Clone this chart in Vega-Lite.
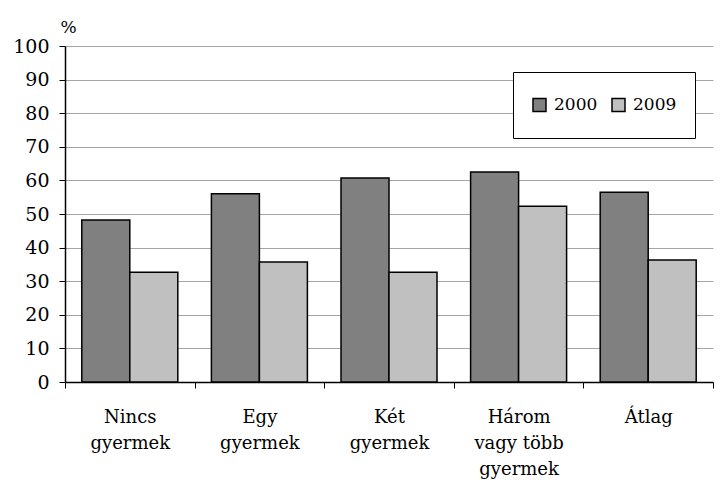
{
  "$schema": "https://vega.github.io/schema/vega-lite/v6.json",
  "width": 648,
  "height": 336,
  "autosize": {"type": "none"},
  "padding": {"left": 65, "top": 46, "right": 7, "bottom": 118},
  "background": "white",
  "config": {"view": {"stroke": null}, "font": "DejaVu Serif"},
  "data": {
    "values": [
      {"cat": "Nincs|gyermek", "year": "2000", "value": 48.2},
      {"cat": "Nincs|gyermek", "year": "2009", "value": 32.7},
      {"cat": "Egy|gyermek", "year": "2000", "value": 56.0},
      {"cat": "Egy|gyermek", "year": "2009", "value": 35.7},
      {"cat": "Két|gyermek", "year": "2000", "value": 60.7},
      {"cat": "Két|gyermek", "year": "2009", "value": 32.7},
      {"cat": "Három|vagy több|gyermek", "year": "2000", "value": 62.5},
      {"cat": "Három|vagy több|gyermek", "year": "2009", "value": 52.3},
      {"cat": "Átlag", "year": "2000", "value": 56.5},
      {"cat": "Átlag", "year": "2009", "value": 36.3}
    ]
  },
  "mark": {"type": "bar", "stroke": "black", "strokeWidth": 1.5},
  "encoding": {
    "x": {
      "field": "cat", "type": "nominal", "sort": null,
      "scale": {"paddingInner": 0, "paddingOuter": 0},
      "axis": {
        "title": null, "labelAngle": 0,
        "labelExpr": "split(datum.label, '|')",
        "labelFont": "DejaVu Serif", "labelFontSize": 18, "labelColor": "black",
        "labelLineHeight": 26, "labelBaseline": "top", "labelPadding": 20,
        "tickBand": "extent", "tickSize": 6, "tickColor": "black",
        "domainColor": "black", "domainWidth": 1.5, "grid": false
      }
    },
    "xOffset": {"field": "year", "type": "nominal", "scale": {"paddingOuter": 0.35, "paddingInner": 0}},
    "y": {
      "field": "value", "type": "quantitative",
      "scale": {"domain": [0, 100]},
      "axis": {
        "values": [0, 10, 20, 30, 40, 50, 60, 70, 80, 90, 100],
        "title": "%", "titleAngle": 0, "titleX": 3, "titleY": -10,
        "titleAlign": "center", "titleBaseline": "bottom",
        "titleFontWeight": "normal", "titleFontSize": 17, "titleFont": "DejaVu Serif", "titleColor": "black",
        "labelFont": "DejaVu Serif", "labelFontSize": 19, "labelColor": "black", "labelPadding": 10,
        "tickSize": 6, "tickColor": "black", "domainColor": "black", "domainWidth": 1.5,
        "grid": true, "gridColor": "#a6a6a6", "gridWidth": 1
      }
    },
    "color": {
      "field": "year", "type": "nominal",
      "scale": {"domain": ["2000", "2009"], "range": ["#808080", "#c0c0c0"]},
      "legend": {
        "orient": "none", "legendX": 448, "legendY": 26, "direction": "horizontal",
        "title": null, "strokeColor": "black", "fillColor": "white", "padding": 18,
        "clipHeight": 30,
        "symbolType": "square", "symbolSize": 169, "symbolStrokeColor": "black", "symbolStrokeWidth": 1.5,
        "labelFontSize": 17, "labelFont": "DejaVu Serif", "labelColor": "black",
        "columnPadding": 12, "labelOffset": 6
      }
    }
  }
}
